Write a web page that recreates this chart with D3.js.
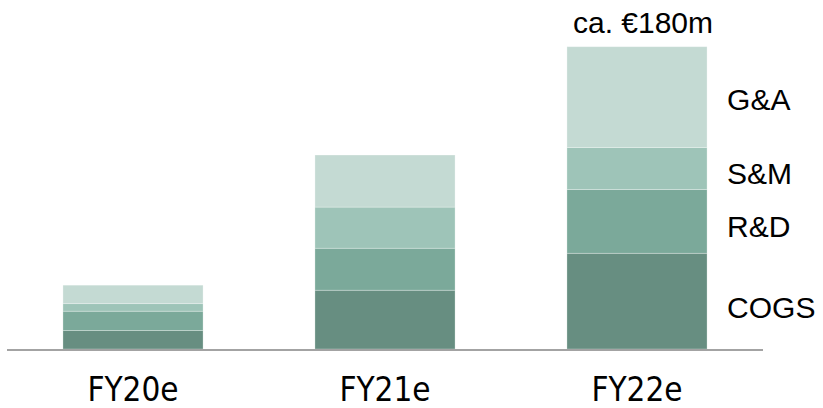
<!DOCTYPE html>
<html>
<head>
<meta charset="utf-8">
<script src="https://cdn.jsdelivr.net/npm/d3@7"></script>
<style>
  html, body { margin: 0; padding: 0; background: #fff; }
  svg { display: block; }
</style>
</head>
<body>
<svg id="chart" width="823" height="408"></svg>
<script>
// Cost base by fiscal year, €m, stacked bottom-up
const years = ["FY20e", "FY21e", "FY22e"];
const costTypes = ["COGS", "R&D", "S&M", "G&A"];
const cogs = [11, 35, 57];
const rnd = [11.5, 25, 38];
const snm = [4.5, 24.5, 25];
const gna = [11, 31, 60];
const totalLabel = "ca. €180m";
const colors = ["#678e81", "#7ba99a", "#9ec4b8", "#c4dad3"];

const rows = years.map((y, i) => ({
  year: y, "COGS": cogs[i], "R&D": rnd[i], "S&M": snm[i], "G&A": gna[i]
}));

const svg = d3.select("#chart");
const baseY = 349;

const x = d3.scaleBand()
  .domain(years)
  .range([7, 763])
  .paddingInner(0.444)
  .paddingOuter(0.222);

const y = d3.scaleLinear()
  .domain([0, 180])
  .range([baseY, 46.7]);

const color = d3.scaleOrdinal().domain(costTypes).range(colors);

const stacked = d3.stack().keys(costTypes)(rows);

svg.append("g")
  .selectAll("g")
  .data(stacked)
  .join("g")
  .attr("fill", d => color(d.key))
  .selectAll("rect")
  .data(d => d)
  .join("rect")
  .attr("x", d => x(d.data.year))
  .attr("width", x.bandwidth())
  .attr("y", d => y(d[1]))
  .attr("height", d => y(d[0]) - y(d[1]))
  .attr("stroke", "rgba(255,255,255,0.35)")
  .attr("stroke-width", 0.8);

// baseline
svg.append("line")
  .attr("x1", 7).attr("x2", 763)
  .attr("y1", baseY + 1).attr("y2", baseY + 1)
  .attr("stroke", "#a3a3a3")
  .attr("stroke-width", 2);

// category labels
svg.append("g")
  .selectAll("text")
  .data(years)
  .join("text")
  .attr("x", d => x(d) + x.bandwidth() / 2)
  .attr("y", 401)
  .attr("text-anchor", "middle")
  .attr("font-family", "'DejaVu Sans Condensed', 'DejaVu Sans', sans-serif")
  .attr("font-stretch", "condensed")
  .attr("font-size", 33)
  .attr("fill", "#000")
  .text(d => d);

// segment labels beside the last bar, centred on each segment
const last = years[years.length - 1];
const lastStack = stacked.map(s => ({ key: s.key, seg: s.find(p => p.data.year === last) }));
const labelNudge = { "COGS": 6, "R&D": 5, "S&M": 5, "G&A": 2 };
svg.append("g")
  .selectAll("text")
  .data(lastStack)
  .join("text")
  .attr("x", x(last) + x.bandwidth() + 20)
  .attr("y", d => (y(d.seg[0]) + y(d.seg[1])) / 2 + 11 + labelNudge[d.key])
  .attr("font-family", "Liberation Sans, Arial, sans-serif")
  .attr("font-size", 30)
  .attr("fill", "#000")
  .text(d => d.key);

// total above the last bar
const lastTotal = d3.sum(costTypes, k => rows[rows.length - 1][k]);
svg.append("text")
  .attr("x", x(last) + x.bandwidth() / 2 + 6)
  .attr("y", y(lastTotal) - 14)
  .attr("text-anchor", "middle")
  .attr("font-family", "Liberation Sans, Arial, sans-serif")
  .attr("font-size", 30)
  .attr("fill", "#000")
  .text(totalLabel);
</script>
</body>
</html>
